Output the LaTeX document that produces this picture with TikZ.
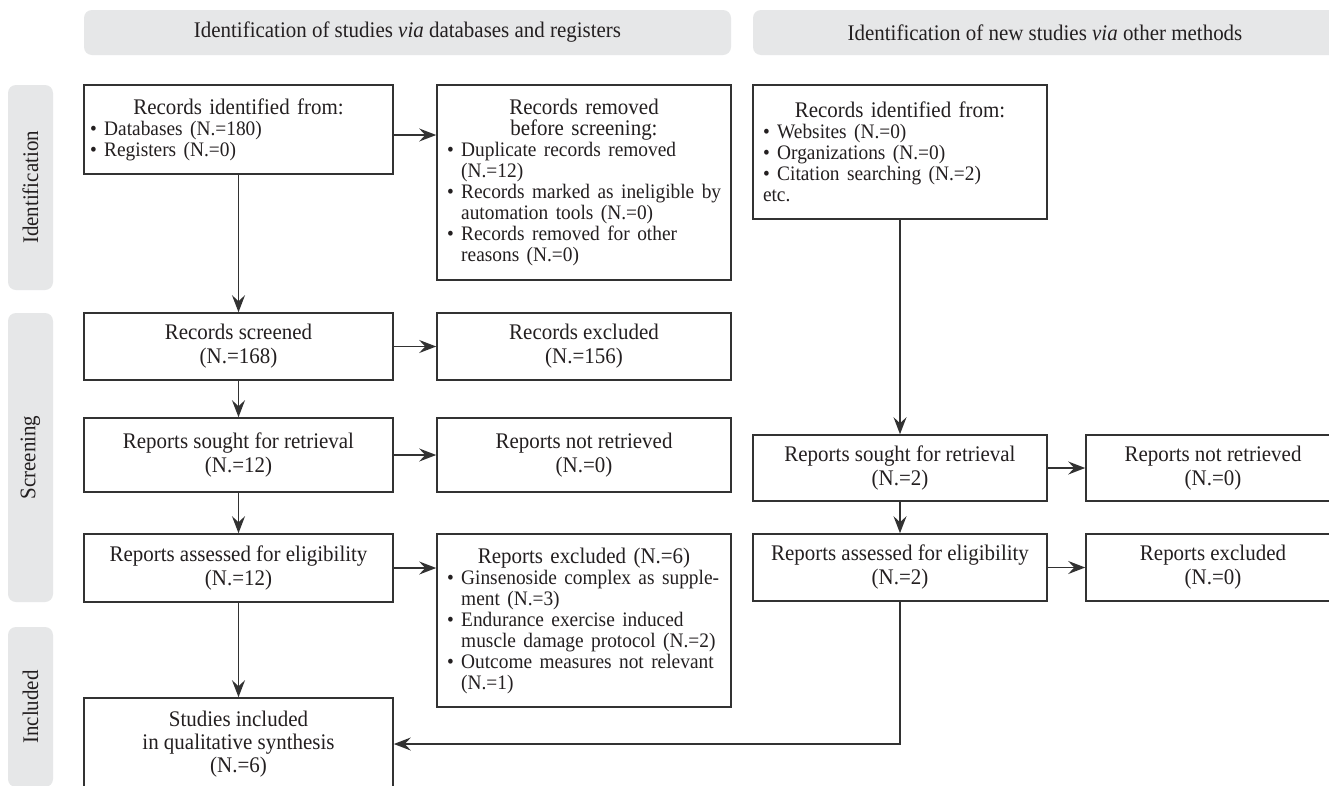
\documentclass[tikz,border=0pt]{standalone}
\usepackage{fontspec}
\setmainfont{Liberation Serif}[FakeStretch=0.94]
\usetikzlibrary{arrows.meta}
\definecolor{hdr}{RGB}{230,231,232}
\definecolor{ink}{RGB}{35,31,32}
\definecolor{edgec}{RGB}{50,50,50}
\newcommand\bitem[1]{\mbox{\textbullet\ #1}}
\newcommand\bcont[1]{\mbox{\hphantom{\textbullet\ }#1}}
\newcommand\listfont{\fontsize{20.6}{21}\selectfont}
\newcommand\mainfont{\fontsize{22.3}{24}\selectfont}
\begin{document}
\begin{tikzpicture}[x=1pt,y=-1pt,
  hdrbox/.style={fill=hdr, rounded corners=8pt, draw=none, inner sep=0pt, text=ink,
    font=\mainfont},
  phase/.style={hdrbox, rotate=90, minimum height=45pt},
  box/.style={draw=edgec, line width=1.6pt, inner sep=0pt, align=center, text=ink,
    font=\mainfont},
  listbox/.style={draw=edgec, line width=1.6pt, inner ysep=0pt, text=ink,
    font=\fontsize{22.3}{21}\selectfont},
  arr/.style={draw=edgec, line width=1.6pt, -{Stealth[length=17pt,width=13pt,inset=6pt]}}]
\useasboundingbox (0,0) rectangle (1329,785);
\clip (0,0) rectangle (1329,785);
\fill[white] (0,0) rectangle (1329,785);

% headers
\node[hdrbox, minimum width=647pt, minimum height=45pt] (h1) at (407.5,32.5)
  {Identification of studies \textit{via} databases and registers};
\node[hdrbox, minimum width=584pt, minimum height=45pt] (h2) at (1045,32.5)
  {Identification of new studies \textit{via} other methods};

% phase bars
\node[phase, minimum width=205pt] (pid) at (30.5,187.5) {Identification};
\node[phase, minimum width=289pt] (psc) at (30.5,457.5) {Screening};
\node[phase, minimum width=160pt] (pin) at (30.5,707) {Included};

% left column
\node[listbox, minimum width=309pt, minimum height=89pt, text width=297pt, inner xsep=6pt] (b1) at (238.5,129.5)
  {{\centering Records identified from:\par}\raggedright\listfont
   \bitem{Databases (N.=180)}\\
   \bitem{Registers (N.=0)}};
\node[listbox, minimum width=294pt, minimum height=195pt, text width=274pt, inner xsep=10pt] (b2) at (584,182.5)
  {{\centering Records removed\\before screening:\par}\raggedright\listfont
   \bitem{Duplicate records removed}\\
   \bcont{(N.=12)}\\
   \bitem{Records marked as ineligible by}\\
   \bcont{automation tools (N.=0)}\\
   \bitem{Records removed for other}\\
   \bcont{reasons (N.=0)}};
\node[box, minimum width=309pt, minimum height=67pt] (b3) at (238.5,346.5)
  {Records screened\\(N.=168)};
\node[box, minimum width=294pt, minimum height=67pt] (b4) at (584,346.5)
  {Records excluded\\(N.=156)};
\node[box, minimum width=309pt, minimum height=74pt] (b5) at (238.5,455)
  {Reports sought for retrieval\\(N.=12)};
\node[box, minimum width=294pt, minimum height=74pt] (b6) at (584,455)
  {Reports not retrieved\\(N.=0)};
\node[box, minimum width=309pt, minimum height=68pt] (b7) at (238.5,568)
  {Reports assessed for eligibility\\(N.=12)};
\node[listbox, minimum width=294pt, minimum height=173pt, text width=274pt, inner xsep=10pt] (b8) at (584,620.5)
  {{\centering Reports excluded (N.=6)\par}\raggedright\listfont
   \bitem{Ginsenoside complex as supple-}\\
   \bcont{ment (N.=3)}\\
   \bitem{Endurance exercise induced}\\
   \bcont{muscle damage protocol (N.=2)}\\
   \bitem{Outcome measures not relevant}\\
   \bcont{(N.=1)}};
\node[box, minimum width=309pt, minimum height=92pt, font=\fontsize{22.3}{23}\selectfont] (b9) at (238.5,744)
  {Studies included\\in qualitative synthesis\\(N.=6)};

% right column
\node[listbox, minimum width=294pt, minimum height=134pt, text width=274pt, inner xsep=10pt] (r1) at (900,152)
  {{\centering Records identified from:\par}\raggedright\listfont
   \bitem{Websites (N.=0)}\\
   \bitem{Organizations (N.=0)}\\
   \bitem{Citation searching (N.=2)}\\
   \mbox{etc.}};
\node[box, minimum width=294pt, minimum height=66pt] (r2) at (900,468)
  {Reports sought for retrieval\\(N.=2)};
\node[box, minimum width=254pt, minimum height=66pt] (r3) at (1213,468)
  {Reports not retrieved\\(N.=0)};
\node[box, minimum width=294pt, minimum height=67pt] (r4) at (900,567.5)
  {Reports assessed for eligibility\\(N.=2)};
\node[box, minimum width=254pt, minimum height=67pt] (r5) at (1213,567.5)
  {Reports excluded\\(N.=0)};

% connectors
\draw[arr] ([yshift=-5.5pt]b1.east) -- ([yshift=-5.5pt]b1.east -| b2.west);
\draw[arr] (b1.south) -- (b3.north);
\draw[arr] (b3.east) -- (b4.west);
\draw[arr] (b3.south) -- (b5.north);
\draw[arr] (b5.east) -- (b6.west);
\draw[arr] (b5.south) -- (b7.north);
\draw[arr] (b7.east) -- (b8.west |- b7.east);
\draw[arr] (b7.south) -- (b9.north);
\draw[arr] (r1.south) -- (r2.north);
\draw[arr] (r2.east) -- (r3.west);
\draw[arr] (r2.south) -- (r4.north);
\draw[arr] (r4.east) -- (r5.west);
\draw[arr] (r4.south) |- (b9.east);
\end{tikzpicture}
\end{document}
